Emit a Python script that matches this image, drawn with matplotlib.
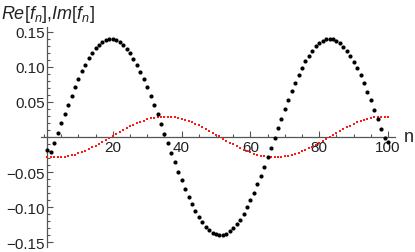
import matplotlib
matplotlib.use('Agg')
import matplotlib.pyplot as plt
from matplotlib.ticker import MultipleLocator, FixedLocator, FuncFormatter

# Data
n = list(range(1, 101))
re_f = [
    -0.0190, -0.0221, -0.0083, 0.0055, 0.0193, 0.0329, 0.0462, 0.0590, 0.0713, 0.0828,
    0.0936, 0.1034, 0.1122, 0.1200, 0.1265, 0.1318, 0.1358, 0.1385, 0.1398, 0.1398,
    0.1384, 0.1357, 0.1316, 0.1262, 0.1196, 0.1118, 0.1030, 0.0931, 0.0823, 0.0707,
    0.0584, 0.0456, 0.0323, 0.0187, 0.0049, -0.0090, -0.0227, -0.0363, -0.0494, -0.0621,
    -0.0742, -0.0856, -0.0961, -0.1057, -0.1143, -0.1217, -0.1279, -0.1329, -0.1366, -0.1390,
    -0.1400, -0.1396, -0.1379, -0.1348, -0.1304, -0.1247, -0.1178, -0.1097, -0.1006, -0.0905,
    -0.0795, -0.0677, -0.0553, -0.0423, -0.0289, -0.0153, -0.0014, 0.0124, 0.0261, 0.0396,
    0.0526, 0.0652, 0.0771, 0.0883, 0.0986, 0.1079, 0.1162, 0.1233, 0.1293, 0.1340,
    0.1373, 0.1393, 0.1400, 0.1393, 0.1372, 0.1338, 0.1291, 0.1231, 0.1159, 0.1075,
    0.0982, 0.0879, 0.0767, 0.0647, 0.0521, 0.0390, 0.0256, 0.0119, -0.0020, -0.0070,
]
im_f = [
    -0.0280, -0.0286, -0.0289, -0.0290, -0.0287, -0.0282, -0.0274, -0.0263, -0.0250, -0.0234,
    -0.0216, -0.0195, -0.0173, -0.0150, -0.0124, -0.0098, -0.0070, -0.0042, -0.0014, 0.0015,
    0.0044, 0.0072, 0.0099, 0.0126, 0.0151, 0.0174, 0.0196, 0.0217, 0.0235, 0.0250,
    0.0264, 0.0274, 0.0282, 0.0287, 0.0290, 0.0289, 0.0286, 0.0280, 0.0271, 0.0260,
    0.0246, 0.0229, 0.0211, 0.0190, 0.0168, 0.0143, 0.0118, 0.0091, 0.0063, 0.0035,
    0.0007, -0.0022, -0.0051, -0.0079, -0.0106, -0.0132, -0.0157, -0.0180, -0.0202, -0.0221,
    -0.0239, -0.0254, -0.0266, -0.0276, -0.0284, -0.0288, -0.0290, -0.0289, -0.0285, -0.0278,
    -0.0269, -0.0257, -0.0242, -0.0225, -0.0206, -0.0185, -0.0162, -0.0137, -0.0111, -0.0084,
    -0.0056, -0.0028, 0.0001, 0.0029, 0.0058, 0.0085, 0.0112, 0.0138, 0.0163, 0.0186,
    0.0207, 0.0226, 0.0243, 0.0257, 0.0269, 0.0279, 0.0285, 0.0289, 0.0290, 0.0288,
]
x_major = [20, 40, 60, 80, 100]
y_major = [-0.15, -0.10, -0.05, 0.05, 0.10, 0.15]

plt.rcParams['font.family'] = ['Liberation Sans', 'DejaVu Sans']
plt.rcParams['mathtext.fontset'] = 'custom'
plt.rcParams['mathtext.rm'] = 'Liberation Sans'
plt.rcParams['mathtext.it'] = 'Liberation Sans:italic'

AX_COL = '#555555'
TXT_COL = '#222222'

fig = plt.figure(figsize=(4.15, 2.53), dpi=100)
ax = fig.add_axes([0.0977, 0.0198, 0.854, 0.8696])

ax.scatter(n, im_f, s=1.6, marker='s', color='#ff1a1a', linewidths=0, zorder=3)
ax.scatter(n, re_f, s=9, color='black', linewidths=0, zorder=4)

ax.set_xlim(-1, 102)
ax.set_ylim(-0.157, 0.157)

for side in ['top', 'right']:
    ax.spines[side].set_visible(False)
ax.spines['left'].set_position(('data', 1))
ax.spines['bottom'].set_position(('data', 0))
for side in ['left', 'bottom']:
    ax.spines[side].set_color(AX_COL)
    ax.spines[side].set_linewidth(0.9)

ax.xaxis.set_major_locator(FixedLocator(x_major))
ax.xaxis.set_minor_locator(MultipleLocator(5))
ax.yaxis.set_major_locator(FixedLocator(y_major))
ax.yaxis.set_minor_locator(MultipleLocator(0.01))
ax.yaxis.set_major_formatter(FuncFormatter(lambda v, p: f'{v:.2f}'.replace('-', '\u2212')))

ax.tick_params(which='both', direction='in', colors=AX_COL, labelcolor=TXT_COL,
               labelsize=11, width=0.8)
ax.tick_params(which='major', length=4, pad=2)
ax.tick_params(which='minor', length=2.2)

ax.text(104.5, 0, 'n', fontsize=13, color=TXT_COL, va='center', ha='left')
fig.text(0.003, 0.985, r'$Re[f_n]{,}Im[f_n]$', fontsize=13, color=TXT_COL,
         va='top', ha='left')

fig.savefig('out.png', dpi=100)
